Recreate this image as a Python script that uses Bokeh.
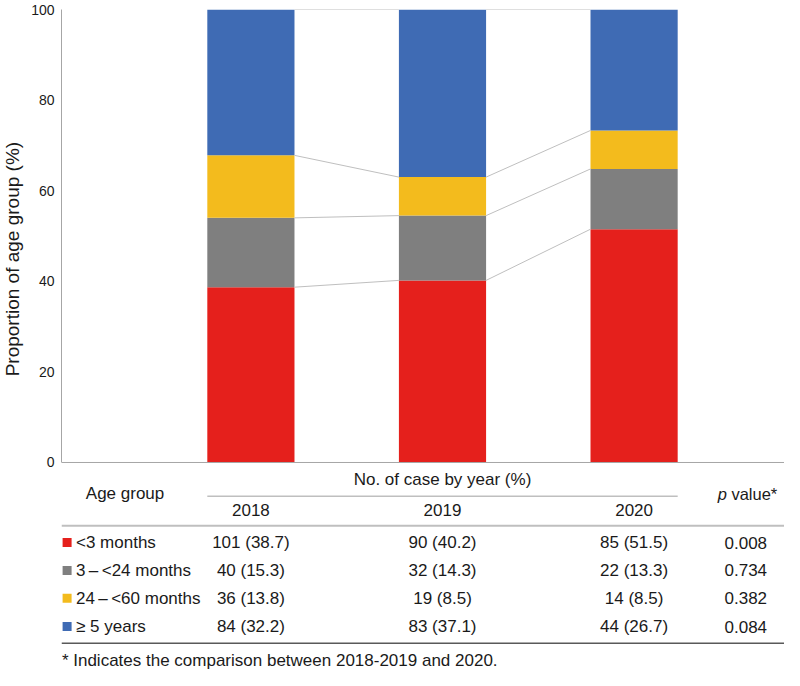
import math
from bokeh.plotting import figure
from bokeh.layouts import row
from bokeh.models import ColumnDataSource, Range1d, LinearAxis, FixedTicker, Span
from bokeh.core.properties import value
from bokeh.embed import file_html
from bokeh.resources import INLINE

# ---- data ----
years = ["2018", "2019", "2020"]
groups = ["<3 months", "3\u2009\u2013\u2009<24 months", "24\u2009\u2013\u2009<60 months", "\u2265 5 years"]
counts_lt3 = [101, 90, 85]
counts_3_24 = [40, 32, 22]
counts_24_60 = [36, 19, 14]
counts_ge5 = [84, 83, 44]
pct_lt3 = [38.7, 40.2, 51.5]
pct_3_24 = [15.3, 14.3, 13.3]
pct_24_60 = [13.8, 8.5, 8.5]
pct_ge5 = [32.2, 37.1, 26.7]
p_values = ["0.008", "0.734", "0.382", "0.084"]
y_ticks = [0, 20, 40, 60, 80, 100]
y_title = "Proportion of age group (%)"

colors = ["#E5201C", "#7F7F7F", "#F3BB1D", "#3F6BB4"]
FONT = "Liberation Sans"
TXT = "#1a1a1a"
BAR_W = 0.455
H = 670
LW = 24

# ---- narrow strip holding the y-axis title ----
lab = figure(width=LW, height=H, x_range=Range1d(0, LW), y_range=Range1d(0, H),
             output_backend="svg", toolbar_location=None,
             x_axis_location=None, y_axis_location=None,
             min_border_left=0, min_border_right=0, min_border_top=0, min_border_bottom=0)
lab.outline_line_color = None
lab.xgrid.visible = False
lab.ygrid.visible = False
lab.text(x=[12], y=[H - 253], text=[y_title], angle=math.pi / 2,
         text_font=value(FONT), text_font_size="19px", text_color=TXT,
         text_align="center", text_baseline="middle")

# ---- main chart + table ----
xs = [1, 2, 3]
src = ColumnDataSource(dict(x=xs, lt3=pct_lt3, m3_24=pct_3_24, m24_60=pct_24_60, ge5=pct_ge5))

p = figure(width=784 - LW, height=H, x_range=Range1d(0.0115, 3.785), y_range=Range1d(-45.92, 100),
           output_backend="svg", toolbar_location=None,
           x_axis_location=None, y_axis_location=None,
           min_border_left=61 - LW, min_border_right=0, min_border_top=9, min_border_bottom=0)
p.outline_line_color = None
p.xgrid.visible = False
p.ygrid.visible = False
p.background_fill_color = "white"

yaxis = LinearAxis(bounds=(0, 100), ticker=FixedTicker(ticks=y_ticks))
yaxis.major_label_text_font = FONT
yaxis.major_label_text_font_size = "14px"
yaxis.major_label_text_color = TXT
yaxis.major_label_standoff = 7
yaxis.major_tick_line_color = None
yaxis.major_tick_out = 0
yaxis.major_tick_in = 0
yaxis.minor_tick_line_color = None
yaxis.minor_tick_out = 0
yaxis.axis_line_color = "#A6A6A6"
yaxis.axis_line_width = 1
p.add_layout(yaxis, "left")

# bars
p.vbar_stack(["lt3", "m3_24", "m24_60", "ge5"], x="x", width=BAR_W, color=colors,
             line_color=None, source=src)

# connector lines between stacks
series = [pct_lt3, pct_3_24, pct_24_60, pct_ge5]
x0s, x1s, y0s, y1s = [], [], [], []
for level in range(1, 5):
    cums = [min(100, sum(s[i] for s in series[:level])) for i in range(3)]
    for i in range(2):
        x0s.append(xs[i] + BAR_W / 2)
        x1s.append(xs[i + 1] - BAR_W / 2)
        y0s.append(cums[i])
        y1s.append(cums[i + 1])
p.segment(x0=x0s, y0=y0s, x1=x1s, y1=y1s, line_color="#BFBFBF", line_width=1)

# baseline
p.add_layout(Span(location=0, dimension="width", line_color="#A6A6A6", line_width=1))

# ---- table ----
Y_HEAD1 = -3.81
Y_HEAD_MID = -6.89
Y_THIN = -7.48
Y_YEARS = -10.56
Y_THICK = -13.95
Y_ROWS = [-17.68, -23.82, -29.96, -36.22]
Y_BOTTOM = -39.89
Y_FOOT = -43.77
X_AGE = 0.343
X_SQ = 0.0407
X_LABEL = 0.0872
X_P = 3.583
X_PSPLIT = 3.484
X_FOOT = 0.0135
TS = "17px"

def txt(x, y, t, align="center", style="normal", size=TS):
    p.text(x=x, y=y, text=t, text_font=value(FONT), text_font_size=size,
           text_align=align, text_baseline="middle", text_color=TXT,
           text_font_style=style)

txt([2], [Y_HEAD1], ["No. of case by year (%)"])
txt([X_AGE], [Y_HEAD_MID], ["Age group"])
txt([X_PSPLIT], [Y_HEAD_MID], ["p"], align="right", style="italic", size="16.5px")
txt([X_PSPLIT], [Y_HEAD_MID], ["\u00a0value*"], align="left", size="16.5px")
p.segment(x0=[xs[0] - BAR_W / 2], y0=[Y_THIN], x1=[xs[-1] + BAR_W / 2], y1=[Y_THIN],
          line_color="#BFBFBF", line_width=1.5)
txt(xs, [Y_YEARS] * 3, years)
p.add_layout(Span(location=Y_THICK, dimension="width", line_color="#BFBFBF", line_width=2))

counts = [counts_lt3, counts_3_24, counts_24_60, counts_ge5]
for r in range(4):
    p.scatter(x=[X_SQ], y=[Y_ROWS[r]], marker="square", size=9, color=colors[r], line_color=None)
    txt([X_LABEL], [Y_ROWS[r]], [groups[r]], align="left")
    cells = [f"{counts[r][i]} ({series[r][i]:.1f})" for i in range(3)]
    txt(xs, [Y_ROWS[r]] * 3, cells)
    txt([X_P], [Y_ROWS[r]], [p_values[r]])

p.add_layout(Span(location=Y_BOTTOM, dimension="width", line_color="#595959", line_width=1.5))
txt([X_FOOT], [Y_FOOT], ["* Indicates the comparison between 2018-2019 and 2020."], align="left")

layout = row(lab, p)
open("out.html", "w").write(file_html(layout, INLINE))
